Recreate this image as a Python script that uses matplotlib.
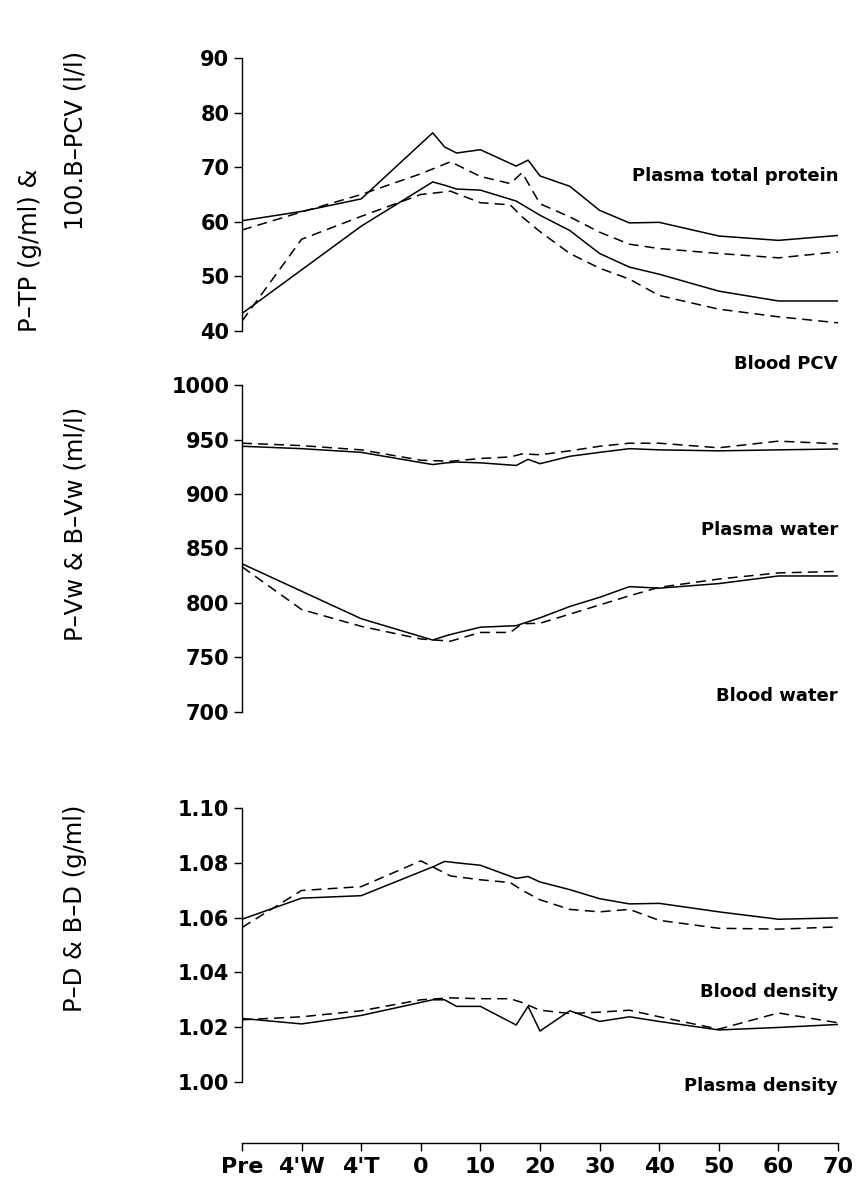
import matplotlib
matplotlib.use('Agg')
import matplotlib.pyplot as plt
import numpy as np

plt.rcParams['font.family'] = ['DejaVu Sans']

# sampling times: solid = one group, dashed = other group
times_solid = ['Pre', "4'W", "4'T", 2, 4, 6, 10, 16, 18, 20, 25, 30, 35, 40, 50, 60, 70]
times_dashed = ['Pre', "4'W", "4'T", 0, 5, 10, 15, 17, 20, 25, 30, 35, 40, 50, 60, 70]

tick_labels = ['Pre', "4'W", "4'T", '0', '10', '20', '30', '40', '50', '60', '70']

# panel 1: plasma total protein (g/l) and 100*blood PCV
ptp_solid = [60.2, 61.9, 64.2, 76.3, 73.7, 72.6, 73.2, 70.2, 71.3, 68.4, 66.5, 62.1, 59.8, 59.9, 57.4, 56.6, 57.5]
ptp_dashed = [58.5, 61.8, 65.0, 68.8, 71.0, 68.3, 67.0, 69.0, 63.3, 60.9, 58.1, 55.9, 55.1, 54.2, 53.4, 54.5]
pcv_solid = [43.2, 51.2, 59.2, 67.3, 66.7, 66.0, 65.8, 63.8, 62.5, 61.2, 58.4, 54.2, 51.7, 50.4, 47.3, 45.5, 45.5]
pcv_dashed = [41.8, 56.8, 61.0, 65.0, 65.6, 63.5, 63.1, 60.9, 58.2, 54.2, 51.5, 49.5, 46.5, 44.0, 42.6, 41.5]

# panel 2: plasma water and blood water (ml/l)
pw_solid = [943.8, 941.6, 938.2, 927.0, 928.4, 929.3, 928.6, 926.2, 931.8, 927.8, 934.6, 938.2, 941.6, 940.5, 939.6, 940.5, 941.3]
pw_dashed = [946.6, 944.4, 940.5, 931.0, 930.0, 932.6, 934.0, 936.8, 936.0, 939.6, 943.8, 946.6, 946.6, 942.4, 948.5, 946.0]
bw_solid = [836.0, 810.8, 785.6, 766.0, 769.6, 772.5, 777.8, 779.2, 782.8, 786.4, 796.8, 805.2, 815.0, 813.6, 817.8, 824.8, 824.8]
bw_dashed = [833.2, 794.0, 778.6, 767.0, 765.0, 773.0, 773.0, 781.0, 781.4, 789.8, 798.2, 806.6, 814.4, 822.0, 827.6, 829.0]

# panel 3: blood density and plasma density (g/ml)
bd_solid = [1.0594, 1.0671, 1.0680, 1.0785, 1.0805, 1.0800, 1.0791, 1.0743, 1.0750, 1.0730, 1.0702, 1.0669, 1.0650, 1.0652, 1.0621, 1.0594, 1.0599]
bd_dashed = [1.0564, 1.0699, 1.0713, 1.0807, 1.0752, 1.0738, 1.0728, 1.0700, 1.0665, 1.0630, 1.0621, 1.0630, 1.0590, 1.0561, 1.0558, 1.0566]
pd_solid = [1.0232, 1.0212, 1.0243, 1.0300, 1.0300, 1.0276, 1.0276, 1.0208, 1.0276, 1.0186, 1.0260, 1.0221, 1.0238, 1.0221, 1.0190, 1.0199, 1.0210]
pd_dashed = [1.0227, 1.0238, 1.0260, 1.0300, 1.0307, 1.0304, 1.0304, 1.0290, 1.0262, 1.0250, 1.0255, 1.0262, 1.0238, 1.0193, 1.0252, 1.0216]


def xpos(times):
    fixed = {'Pre': 0, "4'W": 1, "4'T": 2}
    return [fixed[t] if t in fixed else 3 + t / 10 for t in times]


xs = xpos(times_solid)
xd = xpos(times_dashed)

fig = plt.figure(figsize=(8.62, 11.86), dpi=100)
left, width = 242 / 862, 596 / 862
H = 1186
ax1 = fig.add_axes([left, 1 - 331 / H, width, 273 / H])
ax2 = fig.add_axes([left, 1 - 712 / H, width, 327 / H])
ax3 = fig.add_axes([left, 1 - 1082 / H, width, 274 / H])

lw = 1.1
dash = (0, (6.5, 4))
tick_fs = 15
ann_fs = 13
lab_fs = 17.5

for ax in (ax1, ax2, ax3):
    ax.set_xlim(0, 10)
    for s in ('top', 'right'):
        ax.spines[s].set_visible(False)
    ax.spines['left'].set_linewidth(1.0)
    ax.tick_params(axis='y', direction='out', length=6, width=1.0, labelsize=tick_fs, pad=3)

for ax in (ax1, ax2):
    ax.spines['bottom'].set_visible(False)
    ax.set_xticks([])

# panel 1
ax1.plot(xs, ptp_solid, color='black', lw=lw)
ax1.plot(xd, ptp_dashed, color='black', lw=lw, linestyle=dash)
ax1.plot(xs, pcv_solid, color='black', lw=lw)
ax1.plot(xd, pcv_dashed, color='black', lw=lw, linestyle=dash)
ax1.set_ylim(40, 90)
ax1.set_yticks(np.arange(40, 91, 10))
ax1.text(10, 68.3, 'Plasma total protein', ha='right', va='center', fontsize=ann_fs, fontweight='bold')
ax1.text(10, 34.0, 'Blood PCV', ha='right', va='center', fontsize=ann_fs, fontweight='bold', clip_on=False)
fig.text(30 / 862, 1 - 332 / H, 'P\u2013TP (g/ml) &', rotation=90, ha='center', va='bottom', fontsize=lab_fs)
fig.text(75 / 862, 1 - 230 / H, '100.B\u2013PCV (l/l)', rotation=90, ha='center', va='bottom', fontsize=lab_fs)

# panel 2
ax2.plot(xs, pw_solid, color='black', lw=lw)
ax2.plot(xd, pw_dashed, color='black', lw=lw, linestyle=dash)
ax2.plot(xs, bw_solid, color='black', lw=lw)
ax2.plot(xd, bw_dashed, color='black', lw=lw, linestyle=dash)
ax2.set_ylim(700, 1000)
ax2.set_yticks(np.arange(700, 1001, 50))
ax2.text(10, 867, 'Plasma water', ha='right', va='center', fontsize=ann_fs, fontweight='bold')
ax2.text(10, 715, 'Blood water', ha='right', va='center', fontsize=ann_fs, fontweight='bold')
fig.text(75 / 862, 1 - 524 / H, 'P\u2013Vw & B\u2013Vw (ml/l)', rotation=90, ha='center', va='center', fontsize=lab_fs)

# panel 3
ax3.plot(xs, bd_solid, color='black', lw=lw)
ax3.plot(xd, bd_dashed, color='black', lw=lw, linestyle=dash)
ax3.plot(xs, pd_solid, color='black', lw=lw)
ax3.plot(xd, pd_dashed, color='black', lw=lw, linestyle=dash)
ax3.set_ylim(1.00, 1.10)
ax3.set_yticks(np.arange(1.00, 1.101, 0.02))
ax3.set_yticklabels(['%.2f' % v for v in np.arange(1.00, 1.101, 0.02)])
ax3.text(10, 1.0328, 'Blood density', ha='right', va='center', fontsize=ann_fs, fontweight='bold')
ax3.text(10, 0.9985, 'Plasma density', ha='right', va='center', fontsize=ann_fs, fontweight='bold', clip_on=False)
fig.text(75 / 862, 1 - 908 / H, 'P\u2013D & B\u2013D (g/ml)', rotation=90, ha='center', va='center', fontsize=lab_fs)

ax3.spines['bottom'].set_position(('axes', -61 / 274))
ax3.spines['bottom'].set_linewidth(1.0)
ax3.set_xticks(range(11))
ax3.set_xticklabels(tick_labels)
ax3.tick_params(axis='x', direction='out', length=6, width=1.0, labelsize=tick_fs + 1, pad=4)

for ax in (ax1, ax2, ax3):
    for lab in ax.get_yticklabels() + ax.get_xticklabels():
        lab.set_fontweight('bold')

fig.savefig('out.png', dpi=100)
